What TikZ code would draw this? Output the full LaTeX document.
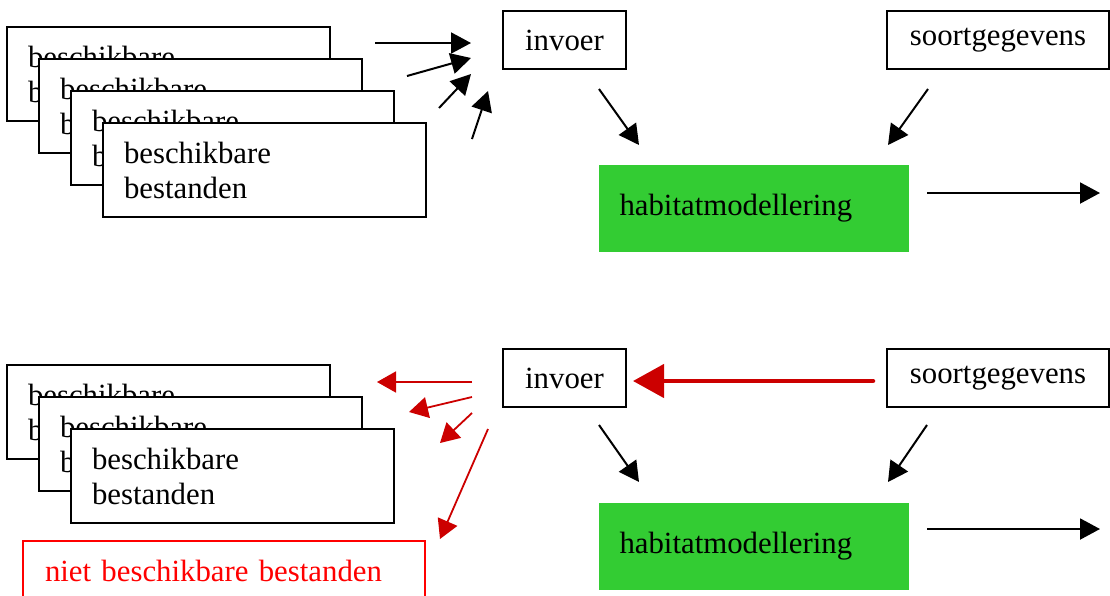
\documentclass[tikz,border=0pt]{standalone}
\usepackage{fontspec}
\setmainfont{Liberation Serif}
\usetikzlibrary{arrows.meta}

\definecolor{habgreen}{HTML}{33CC33}
\definecolor{arrowred}{HTML}{CC0000}
\definecolor{textred}{HTML}{FF0000}

\tikzset{
  setbox/.style={draw=black, line width=2pt, fill=white, minimum width=323pt,
    minimum height=94pt, text width=281pt, inner xsep=21pt, inner ysep=0pt, align=left},
  plainbox/.style={draw=black, line width=2pt, minimum height=58pt, inner sep=0pt},
  modelbox/.style={fill=habgreen, minimum height=87pt, text width=268pt,
    inner xsep=21pt, inner ysep=0pt, align=left},
  missingbox/.style={draw=textred, line width=1.5pt, text=textred, minimum height=59pt,
    text width=358pt, inner xsep=22pt, inner ysep=0pt, align=left},
  arr/.style={line width=2pt, -{Triangle[length=20pt,width=21pt]}},
  redarr/.style={draw=arrowred, line width=1.8pt, -{Triangle[length=19pt,width=21pt]}},
  bigredarr/.style={draw=arrowred, line width=4.5pt, line cap=round,
    -{Triangle[length=31pt,width=33pt]}}
}

\begin{document}
\begin{tikzpicture}[x=1pt, y=-1pt, font=\fontsize{30.8}{35}\selectfont]
	\clip (0,0) rectangle (1110,595);

	% Top: available data sets
	\node[setbox] (topset-1) at (168.5,74) {beschikbare\\bestanden};
	\node[setbox] (topset-2) at (200.5,106) {beschikbare\\bestanden};
	\node[setbox] (topset-3) at (232.5,138) {beschikbare\\bestanden};
	\node[setbox] (topset-4) at (264.5,170) {beschikbare\\bestanden};

	% Top: input, species data, modelling
	\node[plainbox, minimum width=123pt] (topinvoer) at (564.5,40) {invoer};
	\node[plainbox, minimum width=222pt] (topsoort) at (998,40) {soortgegevens};
	\node[modelbox] (tophabitat) at (753.5,208.5) {habitatmodellering};

	% Top: arrow ends
	\coordinate (tfeed1-a) at (375,43);  \coordinate (tfeed1-b) at (471,43);
	\coordinate (tfeed2-a) at (407,76);  \coordinate (tfeed2-b) at (471,58);
	\coordinate (tfeed3-a) at (439,108); \coordinate (tfeed3-b) at (471,74);
	\coordinate (tfeed4-a) at (472,139); \coordinate (tfeed4-b) at (488,91);
	\coordinate (tin-a) at (599,89);     \coordinate (tin-b) at (639,145);
	\coordinate (tsoort-a) at (928,89);  \coordinate (tsoort-b) at (888,145);
	\coordinate (tout-a) at (927,193);   \coordinate (tout-b) at (1100,193);

	% Top: arrows
	\draw[arr] (tfeed1-a) -- (tfeed1-b);
	\draw[arr] (tfeed2-a) -- (tfeed2-b);
	\draw[arr] (tfeed3-a) -- (tfeed3-b);
	\draw[arr] (tfeed4-a) -- (tfeed4-b);
	\draw[arr] (tin-a) -- (tin-b);
	\draw[arr] (tsoort-a) -- (tsoort-b);
	\draw[arr] (tout-a) -- (tout-b);

	% Bottom: available and missing data sets
	\node[setbox] (botset-1) at (168.5,412) {beschikbare\\bestanden};
	\node[setbox] (botset-2) at (200.5,444) {beschikbare\\bestanden};
	\node[setbox] (botset-3) at (232.5,476) {beschikbare\\bestanden};
	\node[missingbox] (botmissing) at (224,570.5) {niet beschikbare bestanden};

	% Bottom: input, species data, modelling
	\node[plainbox, minimum width=123pt] (botinvoer) at (564.5,378) {invoer};
	\node[plainbox, minimum width=222pt] (botsoort) at (998,378) {soortgegevens};
	\node[modelbox] (bothabitat) at (753.5,546.5) {habitatmodellering};

	% Bottom: arrow ends
	\coordinate (bfeed1-a) at (472,382); \coordinate (bfeed1-b) at (377,382);
	\coordinate (bfeed2-a) at (472,397); \coordinate (bfeed2-b) at (409,412);
	\coordinate (bfeed3-a) at (472,413); \coordinate (bfeed3-b) at (440,443);
	\coordinate (bfeed4-a) at (488,429); \coordinate (bfeed4-b) at (440,539);
	\coordinate (bsoort-c) at (873,381); \coordinate (binvoer-c) at (633,381);
	\coordinate (bin-a) at (599,425);    \coordinate (bin-b) at (639,482);
	\coordinate (bsoort-a) at (927,425); \coordinate (bsoort-b) at (888,482);
	\coordinate (bout-a) at (927,529);   \coordinate (bout-b) at (1100,529);

	% Bottom: arrows
	\draw[redarr] (bfeed1-a) -- (bfeed1-b);
	\draw[redarr] (bfeed2-a) -- (bfeed2-b);
	\draw[redarr] (bfeed3-a) -- (bfeed3-b);
	\draw[redarr] (bfeed4-a) -- (bfeed4-b);
	\draw[bigredarr] (bsoort-c) -- (binvoer-c);
	\draw[arr] (bin-a) -- (bin-b);
	\draw[arr] (bsoort-a) -- (bsoort-b);
	\draw[arr] (bout-a) -- (bout-b);
\end{tikzpicture}
\end{document}
